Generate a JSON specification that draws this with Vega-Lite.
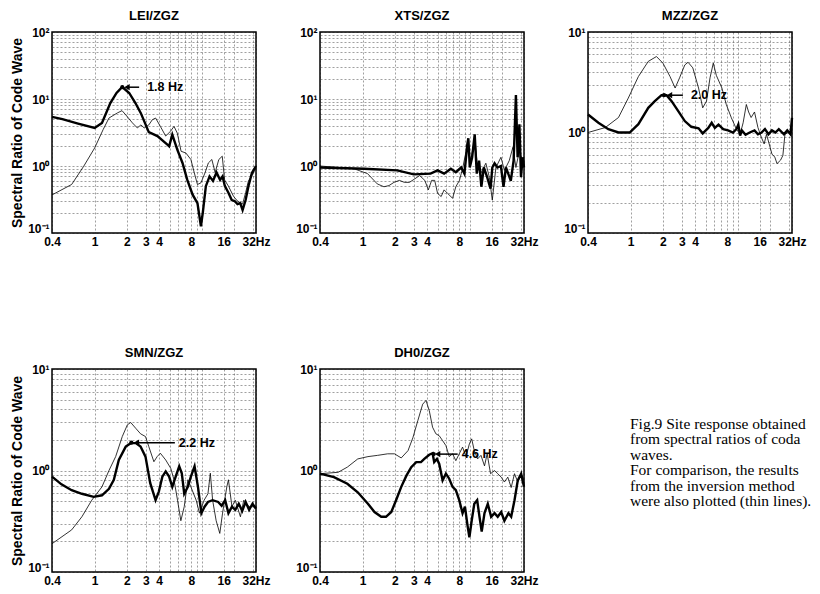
{
  "$schema": "https://vega.github.io/schema/vega-lite/v6.json",
  "background": "white",
  "padding": {"left": 9, "top": 9, "right": 0, "bottom": 0},
  "datasets": {
    "lei": [
      {"f":0.4,"v":5.4,"s":"coda"},{"f":0.5,"v":5.0,"s":"coda"},{"f":0.7,"v":4.3,"s":"coda"},{"f":1.0,"v":3.7,"s":"coda"},{"f":1.17,"v":4.4,"s":"coda"},{"f":1.4,"v":8.7,"s":"coda"},{"f":1.6,"v":12.3,"s":"coda"},{"f":1.81,"v":15.1,"s":"coda"},{"f":2.1,"v":12.3,"s":"coda"},{"f":2.4,"v":8.7,"s":"coda"},{"f":2.69,"v":6.2,"s":"coda"},{"f":3.2,"v":3.2,"s":"coda"},{"f":3.85,"v":2.8,"s":"coda"},{"f":4.77,"v":2.08,"s":"coda"},{"f":4.95,"v":1.97,"s":"coda"},{"f":5.3,"v":2.94,"s":"coda"},{"f":5.9,"v":1.75,"s":"coda"},{"f":6.6,"v":1.11,"s":"coda"},{"f":7.3,"v":0.625,"s":"coda"},{"f":8.2,"v":0.373,"s":"coda"},{"f":9.1,"v":0.28,"s":"coda"},{"f":9.8,"v":0.126,"s":"coda"},{"f":10.2,"v":0.2,"s":"coda"},{"f":10.9,"v":0.5,"s":"coda"},{"f":11.8,"v":0.7,"s":"coda"},{"f":12.7,"v":0.6,"s":"coda"},{"f":13.7,"v":0.8,"s":"coda"},{"f":14.8,"v":0.62,"s":"coda"},{"f":15.6,"v":0.7,"s":"coda"},{"f":16.4,"v":0.5,"s":"coda"},{"f":17.7,"v":0.4,"s":"coda"},{"f":19.0,"v":0.31,"s":"coda"},{"f":20.2,"v":0.3,"s":"coda"},{"f":21.5,"v":0.27,"s":"coda"},{"f":22.8,"v":0.28,"s":"coda"},{"f":24.0,"v":0.22,"s":"coda"},{"f":25.6,"v":0.31,"s":"coda"},{"f":27.2,"v":0.5,"s":"coda"},{"f":29.3,"v":0.79,"s":"coda"},{"f":32,"v":1.0,"s":"coda"},
      {"f":0.4,"v":0.37,"s":"inv"},{"f":0.61,"v":0.53,"s":"inv"},{"f":0.79,"v":0.99,"s":"inv"},{"f":1.0,"v":1.86,"s":"inv"},{"f":1.2,"v":3.5,"s":"inv"},{"f":1.36,"v":5.2,"s":"inv"},{"f":1.63,"v":6.2,"s":"inv"},{"f":1.8,"v":6.7,"s":"inv"},{"f":1.95,"v":5.8,"s":"inv"},{"f":2.25,"v":4.4,"s":"inv"},{"f":2.5,"v":3.7,"s":"inv"},{"f":2.7,"v":4.1,"s":"inv"},{"f":2.9,"v":3.7,"s":"inv"},{"f":3.2,"v":4.1,"s":"inv"},{"f":3.45,"v":4.9,"s":"inv"},{"f":3.7,"v":5.2,"s":"inv"},{"f":4.1,"v":3.9,"s":"inv"},{"f":4.6,"v":2.8,"s":"inv"},{"f":5.1,"v":3.3,"s":"inv"},{"f":5.5,"v":3.9,"s":"inv"},{"f":5.9,"v":3.1,"s":"inv"},{"f":6.4,"v":1.66,"s":"inv"},{"f":7.1,"v":1.56,"s":"inv"},{"f":7.9,"v":1.25,"s":"inv"},{"f":8.5,"v":0.79,"s":"inv"},{"f":9.1,"v":0.53,"s":"inv"},{"f":9.8,"v":0.56,"s":"inv"},{"f":10.7,"v":0.79,"s":"inv"},{"f":11.5,"v":1.11,"s":"inv"},{"f":12.4,"v":1.25,"s":"inv"},{"f":13.3,"v":0.8,"s":"inv"},{"f":14.4,"v":1.25,"s":"inv"},{"f":15.5,"v":1.4,"s":"inv"},{"f":16.3,"v":0.62,"s":"inv"},{"f":17.7,"v":0.5,"s":"inv"},{"f":19.8,"v":0.35,"s":"inv"},{"f":21.5,"v":0.3,"s":"inv"},{"f":24,"v":0.27,"s":"inv"},{"f":25.6,"v":0.4,"s":"inv"},{"f":27.2,"v":0.6,"s":"inv"},{"f":29,"v":0.7,"s":"inv"},{"f":32,"v":0.93,"s":"inv"}
    ],
    "xts": [
      {"f":0.4,"v":0.95,"s":"coda"},{"f":1.03,"v":0.91,"s":"coda"},{"f":2.1,"v":0.86,"s":"coda"},{"f":3.0,"v":0.75,"s":"coda"},{"f":4.3,"v":0.77,"s":"coda"},{"f":5.0,"v":0.86,"s":"coda"},{"f":5.75,"v":0.77,"s":"coda"},{"f":6.65,"v":0.91,"s":"coda"},{"f":7.4,"v":0.81,"s":"coda"},{"f":8.3,"v":0.95,"s":"coda"},{"f":8.9,"v":0.77,"s":"coda"},{"f":9.47,"v":2.1,"s":"coda"},{"f":9.68,"v":2.6,"s":"coda"},{"f":9.99,"v":0.95,"s":"coda"},{"f":10.5,"v":1.34,"s":"coda"},{"f":11.1,"v":2.97,"s":"coda"},{"f":11.6,"v":0.77,"s":"coda"},{"f":12.2,"v":1.2,"s":"coda"},{"f":12.8,"v":0.49,"s":"coda"},{"f":13.5,"v":0.95,"s":"coda"},{"f":14.5,"v":0.68,"s":"coda"},{"f":15.6,"v":0.46,"s":"coda"},{"f":16.2,"v":0.95,"s":"coda"},{"f":17.0,"v":1.1,"s":"coda"},{"f":18.1,"v":0.95,"s":"coda"},{"f":19.5,"v":1.0,"s":"coda"},{"f":20.6,"v":0.49,"s":"coda"},{"f":21.7,"v":0.95,"s":"coda"},{"f":22.8,"v":0.77,"s":"coda"},{"f":24.1,"v":0.6,"s":"coda"},{"f":25.6,"v":1.2,"s":"coda"},{"f":26.9,"v":11.5,"s":"coda"},{"f":27.9,"v":1.35,"s":"coda"},{"f":29.0,"v":4.2,"s":"coda"},{"f":30.0,"v":0.68,"s":"coda"},{"f":31.1,"v":1.35,"s":"coda"},{"f":32,"v":0.95,"s":"coda"},
      {"f":0.4,"v":1.0,"s":"inv"},{"f":0.83,"v":0.91,"s":"inv"},{"f":1.11,"v":0.77,"s":"inv"},{"f":1.37,"v":0.54,"s":"inv"},{"f":1.58,"v":0.49,"s":"inv"},{"f":1.76,"v":0.51,"s":"inv"},{"f":1.96,"v":0.57,"s":"inv"},{"f":2.2,"v":0.61,"s":"inv"},{"f":2.45,"v":0.57,"s":"inv"},{"f":2.73,"v":0.57,"s":"inv"},{"f":3.05,"v":0.64,"s":"inv"},{"f":3.4,"v":0.72,"s":"inv"},{"f":3.8,"v":0.61,"s":"inv"},{"f":4.1,"v":0.44,"s":"inv"},{"f":4.4,"v":0.61,"s":"inv"},{"f":4.7,"v":0.61,"s":"inv"},{"f":5.0,"v":0.39,"s":"inv"},{"f":5.4,"v":0.35,"s":"inv"},{"f":5.75,"v":0.44,"s":"inv"},{"f":6.2,"v":0.39,"s":"inv"},{"f":6.9,"v":0.33,"s":"inv"},{"f":7.4,"v":0.49,"s":"inv"},{"f":8.0,"v":0.61,"s":"inv"},{"f":8.6,"v":0.95,"s":"inv"},{"f":9.5,"v":2.1,"s":"inv"},{"f":10.2,"v":1.2,"s":"inv"},{"f":11.1,"v":2.6,"s":"inv"},{"f":11.7,"v":1.1,"s":"inv"},{"f":12.6,"v":0.77,"s":"inv"},{"f":14.1,"v":1.1,"s":"inv"},{"f":15.2,"v":0.68,"s":"inv"},{"f":16.2,"v":0.31,"s":"inv"},{"f":17.5,"v":0.95,"s":"inv"},{"f":19.5,"v":1.35,"s":"inv"},{"f":21,"v":0.86,"s":"inv"},{"f":23.3,"v":1.2,"s":"inv"},{"f":25.2,"v":1.9,"s":"inv"},{"f":26.9,"v":0.95,"s":"inv"},{"f":29,"v":1.7,"s":"inv"},{"f":32,"v":1.0,"s":"inv"}
    ],
    "mzz": [
      {"f":0.4,"v":1.51,"s":"coda"},{"f":0.5,"v":1.25,"s":"coda"},{"f":0.62,"v":1.08,"s":"coda"},{"f":0.77,"v":1.0,"s":"coda"},{"f":0.98,"v":1.0,"s":"coda"},{"f":1.18,"v":1.21,"s":"coda"},{"f":1.46,"v":1.76,"s":"coda"},{"f":1.68,"v":2.05,"s":"coda"},{"f":1.94,"v":2.35,"s":"coda"},{"f":2.16,"v":2.35,"s":"coda"},{"f":2.41,"v":2.05,"s":"coda"},{"f":2.78,"v":1.63,"s":"coda"},{"f":3.2,"v":1.3,"s":"coda"},{"f":3.68,"v":1.14,"s":"coda"},{"f":4.3,"v":1.1,"s":"coda"},{"f":4.7,"v":0.98,"s":"coda"},{"f":5.3,"v":1.11,"s":"coda"},{"f":5.7,"v":1.25,"s":"coda"},{"f":6.1,"v":1.11,"s":"coda"},{"f":6.6,"v":1.2,"s":"coda"},{"f":7.3,"v":1.08,"s":"coda"},{"f":8.1,"v":1.05,"s":"coda"},{"f":9.0,"v":1.0,"s":"coda"},{"f":9.7,"v":1.08,"s":"coda"},{"f":10.1,"v":1.2,"s":"coda"},{"f":10.5,"v":0.93,"s":"coda"},{"f":10.9,"v":1.05,"s":"coda"},{"f":11.8,"v":0.95,"s":"coda"},{"f":12.9,"v":1.0,"s":"coda"},{"f":14.3,"v":1.05,"s":"coda"},{"f":15.4,"v":0.96,"s":"coda"},{"f":16.6,"v":1.0,"s":"coda"},{"f":17.9,"v":1.08,"s":"coda"},{"f":19.3,"v":0.96,"s":"coda"},{"f":20.8,"v":1.05,"s":"coda"},{"f":22.4,"v":1.0,"s":"coda"},{"f":24.1,"v":1.08,"s":"coda"},{"f":26.9,"v":0.96,"s":"coda"},{"f":28.9,"v":1.05,"s":"coda"},{"f":31.0,"v":0.96,"s":"coda"},{"f":32,"v":1.4,"s":"coda"},
      {"f":0.4,"v":1.0,"s":"inv"},{"f":0.58,"v":1.12,"s":"inv"},{"f":0.77,"v":1.41,"s":"inv"},{"f":0.95,"v":2.2,"s":"inv"},{"f":1.18,"v":3.6,"s":"inv"},{"f":1.46,"v":5.1,"s":"inv"},{"f":1.74,"v":5.7,"s":"inv"},{"f":2.0,"v":4.9,"s":"inv"},{"f":2.33,"v":3.6,"s":"inv"},{"f":2.6,"v":2.77,"s":"inv"},{"f":2.86,"v":3.5,"s":"inv"},{"f":3.2,"v":4.7,"s":"inv"},{"f":3.43,"v":5.0,"s":"inv"},{"f":3.8,"v":4.4,"s":"inv"},{"f":4.3,"v":2.77,"s":"inv"},{"f":4.7,"v":1.76,"s":"inv"},{"f":5.1,"v":2.05,"s":"inv"},{"f":5.5,"v":3.5,"s":"inv"},{"f":5.9,"v":4.9,"s":"inv"},{"f":6.3,"v":3.7,"s":"inv"},{"f":7.1,"v":2.77,"s":"inv"},{"f":7.8,"v":1.9,"s":"inv"},{"f":8.7,"v":1.4,"s":"inv"},{"f":9.7,"v":1.08,"s":"inv"},{"f":10.5,"v":0.96,"s":"inv"},{"f":11.2,"v":1.25,"s":"inv"},{"f":12.0,"v":1.9,"s":"inv"},{"f":12.6,"v":1.6,"s":"inv"},{"f":13.3,"v":1.41,"s":"inv"},{"f":14.3,"v":1.6,"s":"inv"},{"f":15.4,"v":1.12,"s":"inv"},{"f":16.6,"v":0.89,"s":"inv"},{"f":17.6,"v":0.77,"s":"inv"},{"f":18.5,"v":0.96,"s":"inv"},{"f":19.6,"v":0.77,"s":"inv"},{"f":20.8,"v":0.61,"s":"inv"},{"f":22.1,"v":0.57,"s":"inv"},{"f":23.2,"v":0.49,"s":"inv"},{"f":25.0,"v":0.53,"s":"inv"},{"f":26.3,"v":0.59,"s":"inv"},{"f":27.5,"v":0.96,"s":"inv"},{"f":29.6,"v":1.0,"s":"inv"},{"f":32,"v":1.0,"s":"inv"}
    ],
    "smn": [
      {"f":0.4,"v":0.87,"s":"coda"},{"f":0.49,"v":0.73,"s":"coda"},{"f":0.61,"v":0.64,"s":"coda"},{"f":0.76,"v":0.59,"s":"coda"},{"f":0.98,"v":0.55,"s":"coda"},{"f":1.17,"v":0.57,"s":"coda"},{"f":1.36,"v":0.66,"s":"coda"},{"f":1.51,"v":0.81,"s":"coda"},{"f":1.68,"v":1.27,"s":"coda"},{"f":1.95,"v":1.72,"s":"coda"},{"f":2.17,"v":1.86,"s":"coda"},{"f":2.42,"v":1.86,"s":"coda"},{"f":2.68,"v":1.72,"s":"coda"},{"f":2.98,"v":1.37,"s":"coda"},{"f":3.3,"v":0.75,"s":"coda"},{"f":3.7,"v":0.51,"s":"coda"},{"f":3.97,"v":0.62,"s":"coda"},{"f":4.28,"v":0.87,"s":"coda"},{"f":4.6,"v":0.98,"s":"coda"},{"f":4.95,"v":0.87,"s":"coda"},{"f":5.3,"v":0.69,"s":"coda"},{"f":5.7,"v":0.87,"s":"coda"},{"f":6.15,"v":1.1,"s":"coda"},{"f":6.5,"v":0.94,"s":"coda"},{"f":6.85,"v":0.59,"s":"coda"},{"f":7.4,"v":0.69,"s":"coda"},{"f":7.9,"v":0.87,"s":"coda"},{"f":8.55,"v":1.1,"s":"coda"},{"f":9.2,"v":0.69,"s":"coda"},{"f":9.9,"v":0.38,"s":"coda"},{"f":10.6,"v":0.44,"s":"coda"},{"f":11.4,"v":0.49,"s":"coda"},{"f":12.6,"v":0.51,"s":"coda"},{"f":14.2,"v":0.49,"s":"coda"},{"f":15.3,"v":0.45,"s":"coda"},{"f":16.5,"v":0.51,"s":"coda"},{"f":17.7,"v":0.38,"s":"coda"},{"f":19.1,"v":0.44,"s":"coda"},{"f":20.5,"v":0.41,"s":"coda"},{"f":22.1,"v":0.47,"s":"coda"},{"f":23.8,"v":0.4,"s":"coda"},{"f":25.6,"v":0.49,"s":"coda"},{"f":27.6,"v":0.41,"s":"coda"},{"f":29.7,"v":0.47,"s":"coda"},{"f":32,"v":0.42,"s":"coda"},
      {"f":0.4,"v":0.19,"s":"inv"},{"f":0.61,"v":0.26,"s":"inv"},{"f":0.76,"v":0.35,"s":"inv"},{"f":0.94,"v":0.51,"s":"inv"},{"f":1.17,"v":0.69,"s":"inv"},{"f":1.36,"v":1.0,"s":"inv"},{"f":1.57,"v":1.37,"s":"inv"},{"f":1.81,"v":2.16,"s":"inv"},{"f":2.02,"v":2.82,"s":"inv"},{"f":2.17,"v":2.97,"s":"inv"},{"f":2.42,"v":2.6,"s":"inv"},{"f":2.68,"v":2.3,"s":"inv"},{"f":2.98,"v":2.16,"s":"inv"},{"f":3.2,"v":1.72,"s":"inv"},{"f":3.57,"v":1.22,"s":"inv"},{"f":3.83,"v":1.37,"s":"inv"},{"f":4.1,"v":1.48,"s":"inv"},{"f":4.6,"v":1.27,"s":"inv"},{"f":5.13,"v":1.05,"s":"inv"},{"f":5.5,"v":0.81,"s":"inv"},{"f":5.93,"v":0.51,"s":"inv"},{"f":6.37,"v":0.32,"s":"inv"},{"f":6.85,"v":0.44,"s":"inv"},{"f":7.4,"v":0.81,"s":"inv"},{"f":7.9,"v":0.69,"s":"inv"},{"f":8.85,"v":0.51,"s":"inv"},{"f":9.5,"v":0.38,"s":"inv"},{"f":10.5,"v":0.51,"s":"inv"},{"f":11.4,"v":0.59,"s":"inv"},{"f":12.0,"v":0.94,"s":"inv"},{"f":12.6,"v":0.51,"s":"inv"},{"f":13.6,"v":0.32,"s":"inv"},{"f":14.7,"v":0.24,"s":"inv"},{"f":15.6,"v":0.38,"s":"inv"},{"f":17.1,"v":0.69,"s":"inv"},{"f":17.7,"v":0.81,"s":"inv"},{"f":19.1,"v":0.44,"s":"inv"},{"f":20.5,"v":0.51,"s":"inv"},{"f":22.9,"v":0.35,"s":"inv"},{"f":24.6,"v":0.51,"s":"inv"},{"f":27.6,"v":0.44,"s":"inv"},{"f":32,"v":0.44,"s":"inv"}
    ],
    "dh0": [
      {"f":0.4,"v":0.93,"s":"coda"},{"f":0.54,"v":0.86,"s":"coda"},{"f":0.72,"v":0.74,"s":"coda"},{"f":0.9,"v":0.61,"s":"coda"},{"f":1.12,"v":0.47,"s":"coda"},{"f":1.29,"v":0.39,"s":"coda"},{"f":1.49,"v":0.35,"s":"coda"},{"f":1.65,"v":0.35,"s":"coda"},{"f":1.85,"v":0.39,"s":"coda"},{"f":2.05,"v":0.51,"s":"coda"},{"f":2.29,"v":0.69,"s":"coda"},{"f":2.56,"v":0.89,"s":"coda"},{"f":2.84,"v":1.08,"s":"coda"},{"f":3.16,"v":1.21,"s":"coda"},{"f":3.5,"v":1.21,"s":"coda"},{"f":3.76,"v":1.3,"s":"coda"},{"f":4.18,"v":1.43,"s":"coda"},{"f":4.49,"v":1.48,"s":"coda"},{"f":4.65,"v":1.21,"s":"coda"},{"f":4.93,"v":1.3,"s":"coda"},{"f":5.18,"v":1.16,"s":"coda"},{"f":5.57,"v":0.8,"s":"coda"},{"f":5.98,"v":0.93,"s":"coda"},{"f":6.42,"v":0.83,"s":"coda"},{"f":6.9,"v":0.69,"s":"coda"},{"f":7.4,"v":0.64,"s":"coda"},{"f":7.96,"v":0.51,"s":"coda"},{"f":8.55,"v":0.38,"s":"coda"},{"f":9.0,"v":0.44,"s":"coda"},{"f":9.5,"v":0.29,"s":"coda"},{"f":9.9,"v":0.22,"s":"coda"},{"f":10.4,"v":0.32,"s":"coda"},{"f":11.0,"v":0.47,"s":"coda"},{"f":11.7,"v":0.51,"s":"coda"},{"f":12.3,"v":0.35,"s":"coda"},{"f":12.9,"v":0.25,"s":"coda"},{"f":13.7,"v":0.38,"s":"coda"},{"f":14.7,"v":0.47,"s":"coda"},{"f":15.8,"v":0.35,"s":"coda"},{"f":17.0,"v":0.38,"s":"coda"},{"f":18.2,"v":0.35,"s":"coda"},{"f":19.6,"v":0.39,"s":"coda"},{"f":21.0,"v":0.32,"s":"coda"},{"f":22.9,"v":0.38,"s":"coda"},{"f":24.3,"v":0.35,"s":"coda"},{"f":26.1,"v":0.51,"s":"coda"},{"f":28.0,"v":0.8,"s":"coda"},{"f":30.1,"v":0.93,"s":"coda"},{"f":32,"v":0.69,"s":"coda"},
      {"f":0.4,"v":0.93,"s":"inv"},{"f":0.59,"v":0.96,"s":"inv"},{"f":0.72,"v":1.08,"s":"inv"},{"f":0.9,"v":1.3,"s":"inv"},{"f":1.12,"v":1.37,"s":"inv"},{"f":1.38,"v":1.41,"s":"inv"},{"f":1.71,"v":1.46,"s":"inv"},{"f":1.98,"v":1.46,"s":"inv"},{"f":2.29,"v":1.33,"s":"inv"},{"f":2.65,"v":1.57,"s":"inv"},{"f":2.94,"v":2.1,"s":"inv"},{"f":3.27,"v":3.1,"s":"inv"},{"f":3.63,"v":4.5,"s":"inv"},{"f":3.9,"v":4.9,"s":"inv"},{"f":4.18,"v":3.9,"s":"inv"},{"f":4.49,"v":2.67,"s":"inv"},{"f":4.82,"v":2.3,"s":"inv"},{"f":5.18,"v":2.2,"s":"inv"},{"f":5.57,"v":1.97,"s":"inv"},{"f":5.98,"v":1.76,"s":"inv"},{"f":6.42,"v":1.37,"s":"inv"},{"f":6.9,"v":1.46,"s":"inv"},{"f":7.4,"v":1.25,"s":"inv"},{"f":7.96,"v":1.46,"s":"inv"},{"f":8.55,"v":1.7,"s":"inv"},{"f":9.2,"v":1.37,"s":"inv"},{"f":9.9,"v":1.83,"s":"inv"},{"f":10.4,"v":2.05,"s":"inv"},{"f":11.0,"v":1.57,"s":"inv"},{"f":11.8,"v":1.3,"s":"inv"},{"f":12.7,"v":1.41,"s":"inv"},{"f":13.7,"v":1.11,"s":"inv"},{"f":14.5,"v":1.46,"s":"inv"},{"f":15.6,"v":0.93,"s":"inv"},{"f":17.0,"v":1.0,"s":"inv"},{"f":18.2,"v":0.93,"s":"inv"},{"f":19.6,"v":0.86,"s":"inv"},{"f":21.0,"v":0.77,"s":"inv"},{"f":22.6,"v":0.86,"s":"inv"},{"f":24.3,"v":0.68,"s":"inv"},{"f":26.1,"v":0.93,"s":"inv"},{"f":28.0,"v":0.77,"s":"inv"},{"f":30.1,"v":0.93,"s":"inv"},{"f":32,"v":0.8,"s":"inv"}
    ],
    "notes": [
      {"panel":"LEI","peak":1.81,"f":2.0,"tail":2.6,"v":15,"label":"1.8 Hz"},
      {"panel":"MZZ","peak":2.05,"f":2.3,"tail":3.07,"v":2.35,"label":"2.0 Hz"},
      {"panel":"SMN","peak":2.2,"f":2.45,"tail":5.6,"v":1.88,"label":"2.2 Hz"},
      {"panel":"DH0","peak":4.6,"f":5.0,"tail":7.7,"v":1.45,"label":"4.6 Hz"}
    ],
    "caption": [
      {"line":1,"text":"Fig.9 Site response obtained"},
      {"line":2,"text":"from spectral ratios of coda"},
      {"line":3,"text":"waves."},
      {"line":4,"text":"For comparison, the results"},
      {"line":5,"text":"from the inversion method"},
      {"line":6,"text":"were also plotted (thin lines)."}
    ]
  },
  "columns": 3,
  "spacing": {"row": 136, "column": 64},
  "bounds": "flush",
  "concat": [
    {
      "title": "LEI/ZGZ", "width": 204, "height": 201,
      "data": {"name": "lei"},
      "encoding": {
        "x": {"field": "f", "type": "quantitative", "title": null, "scale": {"type": "log", "domain": [0.4, 32]},
          "axis": {"values": [0.4,1,2,3,4,5,6,7,8,9,10,16,20,30,32], "labelExpr": "datum.value == 32 ? '32Hz' : indexof([0.4,1,2,3,4,8,16], datum.value) >= 0 ? '' + datum.value : ''"}},
        "y": {"field": "v", "type": "quantitative", "title": "Spectral Ratio of Code Wave", "scale": {"type": "log", "domain": [0.1, 100]},
          "axis": {"values": [0.1,0.2,0.3,0.4,0.5,0.6,0.7,0.8,0.9,1,2,3,4,5,6,7,8,9,10,20,30,40,50,60,70,80,90,100], "labelOffset": {"condition": {"test": "datum.value == 0.1", "value": -5}, "value": 0}, "labelExpr": "datum.value == 100 ? '10²' : datum.value == 10 ? '10¹' : datum.value == 1 ? '10⁰' : datum.value == 0.1 ? '10⁻¹' : ''"}}
      },
      "layer": [
        {"transform": [{"filter": "datum.s == 'inv'"}], "mark": {"type": "line", "color": "black", "strokeWidth": 0.8}},
        {"transform": [{"filter": "datum.s == 'coda'"}], "mark": {"type": "line", "color": "black", "strokeWidth": 2.4}},
        {"data": {"name": "notes"}, "transform": [{"filter": "datum.panel == 'LEI'"}], "mark": {"type": "rule", "color": "black", "strokeWidth": 1.5}, "encoding": {"x": {"field": "tail", "type": "quantitative", "title": null}, "x2": {"field": "f"}}},
        {"data": {"name": "notes"}, "transform": [{"filter": "datum.panel == 'LEI'"}], "mark": {"type": "point", "shape": "triangle-left", "filled": true, "color": "black", "size": 40, "opacity": 1}},
        {"data": {"name": "notes"}, "transform": [{"filter": "datum.panel == 'LEI'"}], "mark": {"type": "point", "shape": "circle", "filled": true, "color": "black", "size": 18, "opacity": 1}, "encoding": {"x": {"field": "peak", "type": "quantitative", "title": null}}},
        {"data": {"name": "notes"}, "transform": [{"filter": "datum.panel == 'LEI'"}], "mark": {"type": "text", "align": "left", "baseline": "middle", "dx": 8, "fontWeight": "bold", "fontSize": 12.5, "font": "Liberation Sans", "color": "black"}, "encoding": {"x": {"field": "tail", "type": "quantitative", "title": null}, "text": {"field": "label"}}}
      ]
    },
    {
      "title": "XTS/ZGZ", "width": 204, "height": 201,
      "data": {"name": "xts"},
      "encoding": {
        "x": {"field": "f", "type": "quantitative", "title": null, "scale": {"type": "log", "domain": [0.4, 32]},
          "axis": {"values": [0.4,1,2,3,4,5,6,7,8,9,10,16,20,30,32], "labelExpr": "datum.value == 32 ? '32Hz' : indexof([0.4,1,2,3,4,8,16], datum.value) >= 0 ? '' + datum.value : ''"}},
        "y": {"field": "v", "type": "quantitative", "title": null, "scale": {"type": "log", "domain": [0.1, 100]},
          "axis": {"values": [0.1,0.2,0.3,0.4,0.5,0.6,0.7,0.8,0.9,1,2,3,4,5,6,7,8,9,10,20,30,40,50,60,70,80,90,100], "labelOffset": {"condition": {"test": "datum.value == 0.1", "value": -5}, "value": 0}, "labelExpr": "datum.value == 100 ? '10²' : datum.value == 10 ? '10¹' : datum.value == 1 ? '10⁰' : datum.value == 0.1 ? '10⁻¹' : ''"}}
      },
      "layer": [
        {"transform": [{"filter": "datum.s == 'inv'"}], "mark": {"type": "line", "color": "black", "strokeWidth": 0.8}},
        {"transform": [{"filter": "datum.s == 'coda'"}], "mark": {"type": "line", "color": "black", "strokeWidth": 2.4}}
      ]
    },
    {
      "title": "MZZ/ZGZ", "width": 204, "height": 201,
      "data": {"name": "mzz"},
      "encoding": {
        "x": {"field": "f", "type": "quantitative", "title": null, "scale": {"type": "log", "domain": [0.4, 32]},
          "axis": {"values": [0.4,1,2,3,4,5,6,7,8,9,10,16,20,30,32], "labelExpr": "datum.value == 32 ? '32Hz' : indexof([0.4,1,2,3,4,8,16], datum.value) >= 0 ? '' + datum.value : ''"}},
        "y": {"field": "v", "type": "quantitative", "title": null, "scale": {"type": "log", "domain": [0.1, 10]},
          "axis": {"values": [0.1,0.2,0.3,0.4,0.5,0.6,0.7,0.8,0.9,1,2,3,4,5,6,7,8,9,10], "labelOffset": {"condition": {"test": "datum.value == 0.1", "value": -5}, "value": 0}, "labelExpr": "datum.value == 10 ? '10¹' : datum.value == 1 ? '10⁰' : datum.value == 0.1 ? '10⁻¹' : ''"}}
      },
      "layer": [
        {"transform": [{"filter": "datum.s == 'inv'"}], "mark": {"type": "line", "color": "black", "strokeWidth": 0.8}},
        {"transform": [{"filter": "datum.s == 'coda'"}], "mark": {"type": "line", "color": "black", "strokeWidth": 2.4}},
        {"data": {"name": "notes"}, "transform": [{"filter": "datum.panel == 'MZZ'"}], "mark": {"type": "rule", "color": "black", "strokeWidth": 1.5}, "encoding": {"x": {"field": "tail", "type": "quantitative", "title": null}, "x2": {"field": "f"}}},
        {"data": {"name": "notes"}, "transform": [{"filter": "datum.panel == 'MZZ'"}], "mark": {"type": "point", "shape": "triangle-left", "filled": true, "color": "black", "size": 40, "opacity": 1}},
        {"data": {"name": "notes"}, "transform": [{"filter": "datum.panel == 'MZZ'"}], "mark": {"type": "point", "shape": "circle", "filled": true, "color": "black", "size": 18, "opacity": 1}, "encoding": {"x": {"field": "peak", "type": "quantitative", "title": null}}},
        {"data": {"name": "notes"}, "transform": [{"filter": "datum.panel == 'MZZ'"}], "mark": {"type": "text", "align": "left", "baseline": "middle", "dx": 8, "fontWeight": "bold", "fontSize": 12.5, "font": "Liberation Sans", "color": "black"}, "encoding": {"x": {"field": "tail", "type": "quantitative", "title": null}, "text": {"field": "label"}}}
      ]
    },
    {
      "title": "SMN/ZGZ", "width": 204, "height": 203,
      "data": {"name": "smn"},
      "encoding": {
        "x": {"field": "f", "type": "quantitative", "title": null, "scale": {"type": "log", "domain": [0.4, 32]},
          "axis": {"values": [0.4,1,2,3,4,5,6,7,8,9,10,16,20,30,32], "labelExpr": "datum.value == 32 ? '32Hz' : indexof([0.4,1,2,3,4,8,16], datum.value) >= 0 ? '' + datum.value : ''"}},
        "y": {"field": "v", "type": "quantitative", "title": "Spectral Ratio of Code Wave", "scale": {"type": "log", "domain": [0.1, 10]},
          "axis": {"values": [0.1,0.2,0.3,0.4,0.5,0.6,0.7,0.8,0.9,1,2,3,4,5,6,7,8,9,10], "labelOffset": {"condition": {"test": "datum.value == 0.1", "value": -5}, "value": 0}, "labelExpr": "datum.value == 10 ? '10¹' : datum.value == 1 ? '10⁰' : datum.value == 0.1 ? '10⁻¹' : ''"}}
      },
      "layer": [
        {"transform": [{"filter": "datum.s == 'inv'"}], "mark": {"type": "line", "color": "black", "strokeWidth": 0.8}},
        {"transform": [{"filter": "datum.s == 'coda'"}], "mark": {"type": "line", "color": "black", "strokeWidth": 2.4}},
        {"data": {"name": "notes"}, "transform": [{"filter": "datum.panel == 'SMN'"}], "mark": {"type": "rule", "color": "black", "strokeWidth": 1.5}, "encoding": {"x": {"field": "tail", "type": "quantitative", "title": null}, "x2": {"field": "f"}}},
        {"data": {"name": "notes"}, "transform": [{"filter": "datum.panel == 'SMN'"}], "mark": {"type": "point", "shape": "triangle-left", "filled": true, "color": "black", "size": 40, "opacity": 1}},
        {"data": {"name": "notes"}, "transform": [{"filter": "datum.panel == 'SMN'"}], "mark": {"type": "point", "shape": "circle", "filled": true, "color": "black", "size": 18, "opacity": 1}, "encoding": {"x": {"field": "peak", "type": "quantitative", "title": null}}},
        {"data": {"name": "notes"}, "transform": [{"filter": "datum.panel == 'SMN'"}], "mark": {"type": "text", "align": "left", "baseline": "middle", "dx": 4, "fontWeight": "bold", "fontSize": 12.5, "font": "Liberation Sans", "color": "black"}, "encoding": {"x": {"field": "tail", "type": "quantitative", "title": null}, "text": {"field": "label"}}}
      ]
    },
    {
      "title": "DH0/ZGZ", "width": 204, "height": 203,
      "data": {"name": "dh0"},
      "encoding": {
        "x": {"field": "f", "type": "quantitative", "title": null, "scale": {"type": "log", "domain": [0.4, 32]},
          "axis": {"values": [0.4,1,2,3,4,5,6,7,8,9,10,16,20,30,32], "labelExpr": "datum.value == 32 ? '32Hz' : indexof([0.4,1,2,3,4,8,16], datum.value) >= 0 ? '' + datum.value : ''"}},
        "y": {"field": "v", "type": "quantitative", "title": null, "scale": {"type": "log", "domain": [0.1, 10]},
          "axis": {"values": [0.1,0.2,0.3,0.4,0.5,0.6,0.7,0.8,0.9,1,2,3,4,5,6,7,8,9,10], "labelOffset": {"condition": {"test": "datum.value == 0.1", "value": -5}, "value": 0}, "labelExpr": "datum.value == 10 ? '10¹' : datum.value == 1 ? '10⁰' : datum.value == 0.1 ? '10⁻¹' : ''"}}
      },
      "layer": [
        {"transform": [{"filter": "datum.s == 'inv'"}], "mark": {"type": "line", "color": "black", "strokeWidth": 0.8}},
        {"transform": [{"filter": "datum.s == 'coda'"}], "mark": {"type": "line", "color": "black", "strokeWidth": 2.4}},
        {"data": {"name": "notes"}, "transform": [{"filter": "datum.panel == 'DH0'"}], "mark": {"type": "rule", "color": "black", "strokeWidth": 1.5}, "encoding": {"x": {"field": "tail", "type": "quantitative", "title": null}, "x2": {"field": "f"}}},
        {"data": {"name": "notes"}, "transform": [{"filter": "datum.panel == 'DH0'"}], "mark": {"type": "point", "shape": "triangle-left", "filled": true, "color": "black", "size": 40, "opacity": 1}},
        {"data": {"name": "notes"}, "transform": [{"filter": "datum.panel == 'DH0'"}], "mark": {"type": "point", "shape": "circle", "filled": true, "color": "black", "size": 18, "opacity": 1}, "encoding": {"x": {"field": "peak", "type": "quantitative", "title": null}}},
        {"data": {"name": "notes"}, "transform": [{"filter": "datum.panel == 'DH0'"}], "mark": {"type": "text", "align": "left", "baseline": "middle", "dx": 4, "fontWeight": "bold", "fontSize": 12.5, "font": "Liberation Sans", "color": "black"}, "encoding": {"x": {"field": "tail", "type": "quantitative", "title": null}, "text": {"field": "label"}}}
      ]
    },
    {
      "width": 204, "height": 203,
      "view": {"stroke": null},
      "data": {"name": "caption"},
      "mark": {"type": "text", "font": "Liberation Serif", "fontSize": 15.5, "align": "left", "baseline": "alphabetic", "color": "black"},
      "encoding": {
        "x": {"value": 42},
        "y": {"field": "line", "type": "quantitative", "scale": {"domain": [-2.87, 10.23], "reverse": true}, "axis": null},
        "text": {"field": "text"}
      }
    }
  ],
  "config": {
    "view": {"stroke": "black", "strokeWidth": 1.5},
    "font": "Liberation Sans",
    "axis": {
      "domain": false, "ticks": false, "grid": true,
      "gridColor": "#111", "gridDash": [2, 2], "gridWidth": 0.5, "gridOpacity": 0.8,
      "labelFont": "Liberation Sans", "labelFontWeight": "bold", "labelFontSize": 12, "labelColor": "black", "labelPadding": 3,
      "labelOverlap": false, "labelBound": false, "labelFlush": false,
      "titleFont": "Liberation Sans", "titleFontWeight": "bold", "titleFontSize": 14, "titleColor": "black", "titlePadding": 3
    },
    "title": {"font": "Liberation Sans", "fontWeight": "bold", "fontSize": 13, "color": "black", "offset": 3}
  }
}
